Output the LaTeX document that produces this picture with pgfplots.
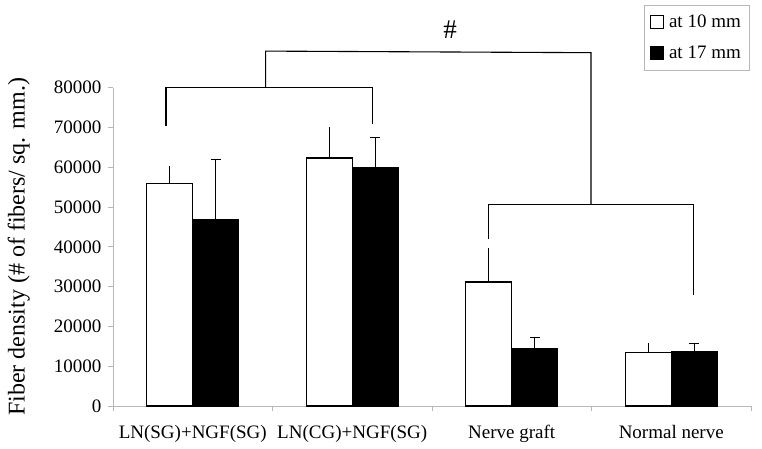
\documentclass[border=0pt]{standalone}
\usepackage{fontspec}
\setmainfont{Liberation Serif}
\usepackage{pgfplots}
\pgfplotsset{compat=1.18}
\usetikzlibrary{calc}

\begin{document}
\begin{tikzpicture}
\begin{axis}[
  name=ax,
  scale only axis,
  width=638pt, height=318.3pt,
  xmin=-0.5, xmax=3.5, ymin=0, ymax=80000,
  ybar=0pt, bar width=46pt,
  axis x line*=bottom, axis y line*=left,
  axis line style={draw=black!28, line width=0.8pt},
  xtick={0,1,2,3},
  xticklabels={LN(SG)+NGF(SG), LN(CG)+NGF(SG), Nerve graft, Normal nerve},
  major x tick style={draw=none},
  minor xtick={-0.5,0.5,1.5,2.5,3.5},
  minor tick length=5pt,
  ytick={0,10000,...,80000},
  scaled y ticks=false,
  yticklabel style={/pgf/number format/1000 sep={}, xshift=-3pt},
  xticklabel style={yshift=-11pt},
  /pgf/number format/assume math mode=true,
  tick align=outside,
  major tick length=5pt,
  tick style={draw=black!28, line width=0.8pt},
  tick label style={font=\fontsize{19}{23}\selectfont},
  ylabel={Fiber density (\# of fibers/ sq. mm.)},
  ylabel style={font=\fontsize{24}{28}\selectfont, at={(axis description cs:-0.1301,0.5)}, anchor=south, inner sep=0pt},
  clip=false,
  legend style={at={(axis description cs:0.9969,1.2598)}, anchor=north east,
    draw=black!28, font=\fontsize{19}{23}\selectfont, row sep=13pt,
    inner xsep=6pt, inner ysep=8pt, cells={anchor=west}},
]
\addplot[fill=white, draw=black, line width=1.3pt,
  legend image code/.code={\draw[fill=white, draw=black, line width=1pt] (0pt,-6.5pt) rectangle (13pt,6.5pt); \path (16pt,0pt);},
  error bars/.cd, y dir=plus, y explicit, error mark=none,
  error bar style={line width=1.3pt, black}]
  coordinates {(0,56000) +- (0,4300) (1,62300) +- (0,7700) (2,31150) +- (0,8450) (3,13500) +- (0,2250)};
\addlegendentry{at 10 mm}
\addplot[fill=black, draw=black, line width=1.3pt,
  legend image code/.code={\draw[fill=black, draw=black, line width=1pt] (0pt,-6.5pt) rectangle (13pt,6.5pt); \path (16pt,0pt);},
  error bars/.cd, y dir=plus, y explicit, error mark=-,
  error mark options={rotate=90, mark size=5pt, line width=1.3pt, black},
  error bar style={line width=1.3pt, black}]
  coordinates {(0,46900) +- (0,15000) (1,60000) +- (0,7500) (2,14400) +- (0,2850) (3,13650) +- (0,2050)};
\addlegendentry{at 17 mm}
% significance brackets
\draw[line width=1.1pt] (axis cs:-0.168,70400) -- (axis cs:-0.168,80000) -- (axis cs:1.126,80000) -- (axis cs:1.126,70800);
\draw[line width=1.1pt] (axis cs:0.457,80000) -- (axis cs:0.457,89200) -- (axis cs:2.497,88800) -- (axis cs:2.497,50750);
\draw[line width=1.1pt] (axis cs:1.853,41900) -- (axis cs:1.853,50750) -- (axis cs:3.138,50750) -- (axis cs:3.138,27900);
\node[font=\fontsize{27}{30}\selectfont] at (axis cs:1.613,94500) {\#};
\end{axis}
\pgfresetboundingbox
\useasboundingbox ([shift={(-113pt,-42pt)}]ax.south west) rectangle ++(762pt,448pt);
\end{tikzpicture}
\end{document}
